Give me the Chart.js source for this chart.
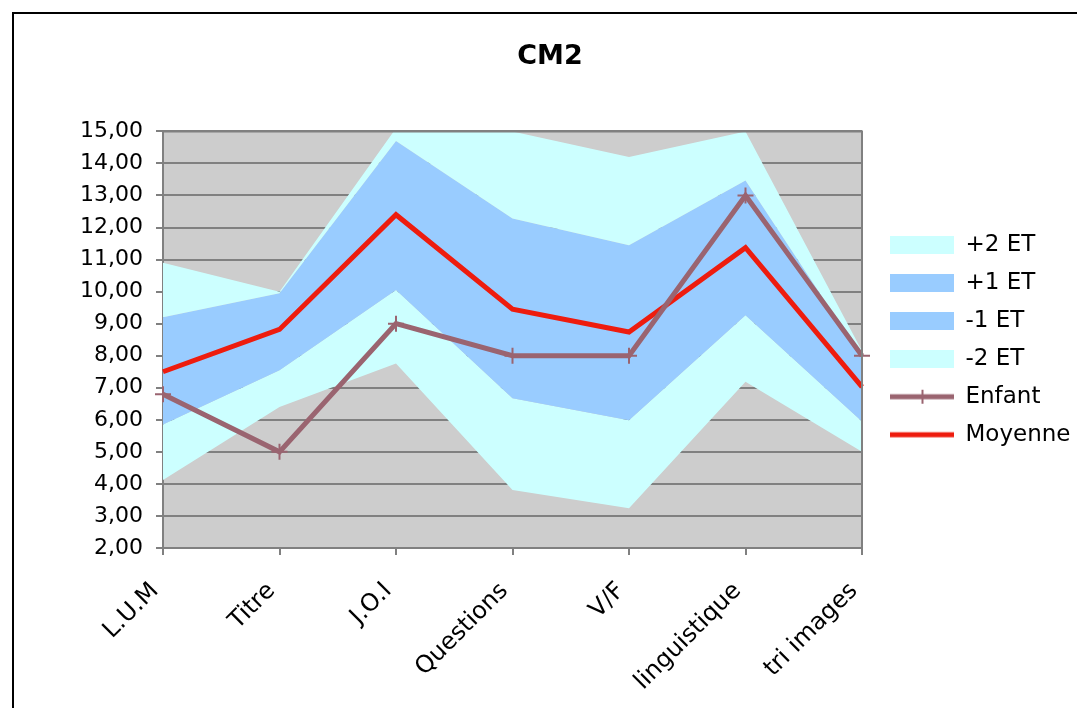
<!DOCTYPE html>
<html>
<head>
<meta charset="utf-8">
<script src="https://cdn.jsdelivr.net/npm/chart.js@4"></script>
<style>
  html, body { margin: 0; padding: 0; background: #fff; overflow: hidden; }
  #frame { position: absolute; left: 12px; top: 12px; width: 1100px; height: 720px; border: 2px solid #000; }
  #chart { position: absolute; left: 0; top: 0; }
</style>
</head>
<body>
<div id="frame"></div>
<canvas id="chart" width="1100" height="708"></canvas>
<script>
'use strict';
// données
const categories = ['L.U.M', 'Titre', 'J.O.I', 'Questions', 'V/F', 'linguistique', 'tri images'];
const seriesNames = ['+2 ET', '+1 ET', '-1 ET', '-2 ET', 'Enfant', 'Moyenne'];
const plus2 = [10.9, 10.0, 15.1, 15.0, 14.2, 15.0, 8.15];
const plus1 = [9.2, 9.95, 14.7, 12.28, 11.45, 13.47, 7.95];
const minus1 = [5.85, 7.55, 10.05, 6.67, 5.99, 9.26, 5.95];
const minus2 = [4.12, 6.4, 7.76, 3.81, 3.24, 7.19, 5.0];
const enfant = [6.8, 5, 9, 8, 8, 13, 8];
const moyenne = [7.5, 8.82, 12.4, 9.45, 8.74, 11.37, 7.03];
const yTickValues = [2, 3, 4, 5, 6, 7, 8, 9, 10, 11, 12, 13, 14, 15];

const font = 'DejaVu Sans';
const cyan = '#ccffff';
const blue = '#99ccff';
const plum = '#9a6470';
const red = '#ee1c0e';
const gridGrey = '#808080';

// icônes de légende (marge transparente à gauche)
const iconW = 77;
function icon(draw) {
  const c = document.createElement('canvas');
  c.width = iconW; c.height = 18;
  draw(c.getContext('2d'));
  return c;
}
const rect = color => icon(g => { g.fillStyle = color; g.fillRect(13, 0, iconW - 13, 18); });
const legendIcons = [
  rect(cyan), rect(blue), rect(blue), rect(cyan),
  icon(g => {
    g.strokeStyle = plum; g.lineWidth = 5;
    g.beginPath(); g.moveTo(13, 9); g.lineTo(iconW, 9); g.stroke();
    g.lineWidth = 2;
    g.beginPath(); g.moveTo(45.5, 2); g.lineTo(45.5, 16); g.stroke();
  }),
  icon(g => {
    g.strokeStyle = red; g.lineWidth = 5;
    g.beginPath(); g.moveTo(13, 9); g.lineTo(iconW, 9); g.stroke();
  })
];

// largeur de la légende pour caler la zone de tracé (droite à 862, titre centré à 550)
const legendFontSize = 23;
const legendPad = 15;
const mctx = document.createElement('canvas').getContext('2d');
mctx.font = legendFontSize + 'px "' + font + '"';
const maxText = Math.max(...seriesNames.map(t => mctx.measureText(t).width));
const legendWidth = legendPad + iconW + legendFontSize / 2 + maxText + 10;
const rightPad = Math.max(0, 1100 - 862 - legendWidth);
const leftPad = Math.max(0, 2 * 550 - (862 + legendWidth));

const plotFrame = {
  id: 'plotFrame',
  beforeDraw(chart) {
    const { ctx, chartArea: a } = chart;
    ctx.save();
    ctx.fillStyle = '#cdcdcd';
    ctx.fillRect(a.left, a.top, a.right - a.left, a.bottom - a.top);
    ctx.restore();
  },
  afterDraw(chart) {
    const { ctx, chartArea: a } = chart;
    ctx.save();
    ctx.strokeStyle = gridGrey;
    ctx.lineWidth = 2;
    ctx.beginPath();
    ctx.moveTo(a.left, a.top);
    ctx.lineTo(a.right, a.top);
    ctx.lineTo(a.right, a.bottom);
    ctx.stroke();
    ctx.restore();
  }
};

const band = (label, data, color, fillColor) => ({
  label, data,
  borderColor: 'rgba(0,0,0,0)',
  borderWidth: 0,
  backgroundColor: color,
  pointRadius: 0,
  fill: fillColor ? { target: '+1', above: fillColor, below: fillColor } : false
});

new Chart(document.getElementById('chart'), {
  type: 'line',
  data: {
    labels: categories,
    datasets: [
      band(seriesNames[0], plus2, cyan, cyan),
      band(seriesNames[1], plus1, blue, blue),
      band(seriesNames[2], minus1, blue, cyan),
      band(seriesNames[3], minus2, cyan, null),
      {
        label: seriesNames[4], data: enfant,
        borderColor: plum, backgroundColor: plum, borderWidth: 5,
        pointStyle: 'cross', pointRadius: 8, pointBorderWidth: 2,
        pointBorderColor: plum, fill: false, tension: 0
      },
      {
        label: seriesNames[5], data: moyenne,
        borderColor: red, backgroundColor: red, borderWidth: 5,
        pointRadius: 0, fill: false, tension: 0
      }
    ]
  },
  options: {
    responsive: false,
    animation: false,
    events: [],
    layout: { padding: { left: leftPad, right: rightPad, top: 0, bottom: 0 } },
    scales: {
      x: {
        offset: false,
        afterFit(scale) { scale.height = 160; },
        grid: { drawOnChartArea: false, drawTicks: true, tickLength: 7, color: gridGrey, lineWidth: 2 },
        border: { color: gridGrey, width: 2 },
        ticks: {
          color: '#000', font: { family: font, size: 24 },
          minRotation: 45, maxRotation: 45, padding: 22, labelOffset: -8, autoSkip: false
        }
      },
      y: {
        min: 2, max: 15,
        afterFit(scale) { scale.width = 163 - leftPad; },
        afterBuildTicks(scale) { scale.ticks = yTickValues.map(v => ({ value: v })); },
        grid: { color: gridGrey, lineWidth: 2, tickLength: 7 },
        border: { color: gridGrey, width: 2 },
        ticks: {
          color: '#000', font: { family: font, size: 22 }, padding: 13,
          callback: v => v.toFixed(2).replace('.', ',')
        }
      }
    },
    plugins: {
      filler: { drawTime: 'beforeDatasetsDraw' },
      tooltip: { enabled: false },
      title: {
        display: true, text: 'CM2', color: '#000',
        font: { family: font, size: 27, weight: 'bold' },
        padding: { top: 41, bottom: 58 }
      },
      legend: {
        position: 'right',
        fullSize: false,
        labels: {
          color: '#000',
          font: { family: font, size: legendFontSize },
          padding: legendPad,
          usePointStyle: true,
          pointStyleWidth: iconW,
          generateLabels(chart) {
            const items = Chart.defaults.plugins.legend.labels.generateLabels(chart);
            items.forEach(it => { it.pointStyle = legendIcons[it.datasetIndex]; });
            return items;
          }
        }
      }
    }
  },
  plugins: [plotFrame]
});
</script>
</body>
</html>
